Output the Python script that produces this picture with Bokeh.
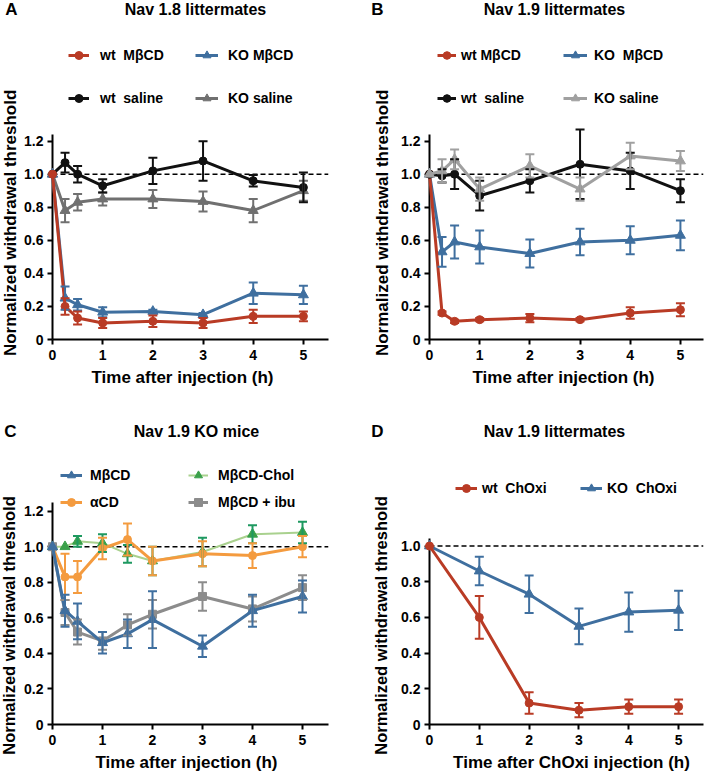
import math
from bokeh.plotting import figure
from bokeh.models import (ColumnDataSource, Whisker, TeeHead, Span, Legend,
                          LegendItem, FixedTicker, Range1d)
from bokeh.core.properties import value
from bokeh.layouts import column, row
from bokeh.embed import file_html
from bokeh.resources import INLINE

FONT = "Liberation Sans"

# ---------------- data ----------------
# Panel A: Nav 1.8 littermates
t_a = [0, 0.25, 0.5, 1, 2, 3, 4, 5]
a_wt_mbcd = [1.0, 0.20, 0.13, 0.10, 0.11, 0.10, 0.14, 0.14]
a_wt_mbcd_err = [0, 0.05, 0.04, 0.03, 0.035, 0.03, 0.04, 0.03]
a_ko_mbcd = [1.0, 0.25, 0.21, 0.165, 0.17, 0.15, 0.28, 0.27]
a_ko_mbcd_err = [0, 0.07, 0.035, 0.03, 0.01, 0.01, 0.065, 0.055]
a_wt_sal = [1.0, 1.07, 1.00, 0.93, 1.02, 1.08, 0.96, 0.92]
a_wt_sal_err = [0, 0.06, 0.05, 0.04, 0.08, 0.12, 0.035, 0.09]
a_ko_sal = [1.0, 0.78, 0.83, 0.85, 0.85, 0.835, 0.78, 0.90]
a_ko_sal_err = [0, 0.07, 0.05, 0.04, 0.055, 0.06, 0.07, 0.06]

# Panel B: Nav 1.9 littermates
t_b = [0, 0.25, 0.5, 1, 2, 3, 4, 5]
b_wt_mbcd = [1.0, 0.16, 0.11, 0.12, 0.13, 0.12, 0.16, 0.18]
b_wt_mbcd_err = [0, 0.01, 0.01, 0.01, 0.025, 0.01, 0.035, 0.04]
b_ko_mbcd = [1.0, 0.53, 0.59, 0.56, 0.52, 0.59, 0.60, 0.63]
b_ko_mbcd_err = [0, 0.09, 0.10, 0.10, 0.085, 0.08, 0.085, 0.09]
b_wt_sal = [1.0, 0.99, 1.0, 0.87, 0.96, 1.06, 1.02, 0.90]
b_wt_sal_err = [0, 0.04, 0.09, 0.09, 0.07, 0.21, 0.11, 0.07]
b_ko_sal = [1.0, 1.02, 1.09, 0.91, 1.05, 0.91, 1.11, 1.08]
b_ko_sal_err = [0, 0.07, 0.06, 0.07, 0.07, 0.07, 0.08, 0.06]

# Panel C: Nav 1.9 KO mice
t_c = [0, 0.25, 0.5, 1, 1.5, 2, 3, 4, 5]
c_mbcd = [1.0, 0.64, 0.58, 0.46, 0.51, 0.59, 0.44, 0.64, 0.72]
c_mbcd_err = [0, 0.09, 0.10, 0.06, 0.08, 0.16, 0.06, 0.09, 0.09]
c_acd = [1.0, 0.83, 0.83, 0.99, 1.04, 0.92, 0.96, 0.95, 1.00]
c_acd_err = [0, 0.13, 0.09, 0.06, 0.09, 0.08, 0.07, 0.07, 0.06]
c_chol = [1.0, 1.0, 1.03, 1.02, 0.96, 0.92, 0.97, 1.07, 1.08]
c_chol_err = [0, 0, 0.03, 0.05, 0.05, 0.08, 0.08, 0.05, 0.06]
c_ibu = [1.0, 0.63, 0.52, 0.47, 0.56, 0.62, 0.72, 0.65, 0.77]
c_ibu_err = [0, 0.07, 0.07, 0.05, 0.06, 0.08, 0.08, 0.07, 0.07]

# Panel D: Nav 1.9 littermates, ChOxi
t_d = [0, 1, 2, 3, 4, 5]
d_wt = [1.0, 0.60, 0.12, 0.08, 0.10, 0.10]
d_wt_err = [0, 0.12, 0.06, 0.04, 0.04, 0.04]
d_ko = [1.0, 0.86, 0.73, 0.55, 0.63, 0.64]
d_ko_err = [0, 0.08, 0.105, 0.10, 0.11, 0.11]

x_ticks = [0, 1, 2, 3, 4, 5]
y_ticks_12 = [0, 0.2, 0.4, 0.6, 0.8, 1.0, 1.2]
y_labels_12 = ["0", "0.2", "0.4", "0.6", "0.8", "1.0", "1.2"]
y_ticks_10 = [0, 0.2, 0.4, 0.6, 0.8, 1.0]
y_labels_10 = ["0", "0.2", "0.4", "0.6", "0.8", "1.0"]

RED = "#B93B25"
BLUE = "#3F6F9F"
BLACK = "#111111"
GRAY_A = "#707070"
GRAY_B = "#A0A0A0"
ORANGE = "#F49B3F"
GREEN = "#3AA04A"
GREEN_ERR = "#1E9960"
GREEN_LINE = "#A9D18E"
GRAY_C = "#8C8C8C"

# ---------------- geometry (pixels inside each figure) ----------------
# frame spans from the figure top down to the x axis; y axis line is bounded
GA = dict(ml=52, mr=26, mb=47, fw=276, fh=339, x1=5.5, ppu=165.3, ytop=1.24)
GB = dict(ml=75, mr=6, mb=47, fw=274, fh=339, x1=5.46, ppu=165.3, ytop=1.24)
GC = dict(ml=52, mr=26, mb=48, fw=276, fh=338, x1=5.52, ppu=177.8, ytop=1.25)
GD = dict(ml=75, mr=6, mb=48, fw=274, fh=338, x1=5.5, ppu=178.5, ytop=1.04)


def to_data(g, fx, fy):
    x = (fx - g["ml"]) / g["fw"] * g["x1"]
    y = (g["fh"] - fy) / g["ppu"]
    return x, y


def make_fig(g, y_ticks, y_labels):
    p = figure(frame_width=g["fw"], frame_height=g["fh"],
               min_border_left=g["ml"], min_border_right=g["mr"],
               min_border_top=0, min_border_bottom=g["mb"],
               x_range=Range1d(0, g["x1"]), y_range=Range1d(0, g["fh"] / g["ppu"]),
               output_backend="svg", toolbar_location=None, tools="")
    p.outline_line_color = None
    p.xgrid.visible = False
    p.ygrid.visible = False
    p.background_fill_color = "white"
    p.border_fill_color = "white"
    for ax in (p.xaxis[0], p.yaxis[0]):
        ax.axis_line_width = 2
        ax.axis_line_color = "black"
        ax.major_tick_line_width = 2
        ax.major_tick_line_color = "black"
        ax.major_tick_in = 0
        ax.major_tick_out = 5
        ax.minor_tick_line_color = None
        ax.major_label_text_font = FONT
        ax.major_label_text_font_style = "bold"
        ax.major_label_text_font_size = "14px"
        ax.major_label_text_color = "black"
    p.xaxis.ticker = FixedTicker(ticks=x_ticks)
    p.yaxis.ticker = FixedTicker(ticks=y_ticks)
    p.yaxis.bounds = (0, g["ytop"])
    p.yaxis.major_label_overrides = {t: l for t, l in zip(y_ticks, y_labels)}
    p.xaxis.major_label_standoff = 5
    p.yaxis.major_label_standoff = 4
    p.add_layout(Span(location=1.0, dimension="width", line_color="black",
                      line_width=1.5, line_dash="5 3"))
    return p


def series(p, x, y, err, color, marker, size, lw=3, line_color=None, err_color=None):
    lc = line_color or color
    ec = err_color or color
    l = p.line(x, y, line_color=lc, line_width=lw)
    s = p.scatter(x, y, marker=marker, size=size, fill_color=color, line_color=color)
    l.level = "overlay"
    s.level = "overlay"
    xs = [a for a, e in zip(x, err) if e > 0]
    up = [b + e for b, e in zip(y, err) if e > 0]
    lo = [b - e for b, e in zip(y, err) if e > 0]
    src = ColumnDataSource(dict(x=xs, upper=up, lower=lo))
    w = Whisker(source=src, base="x", upper="upper", lower="lower",
                line_color=ec, line_width=2,
                upper_head=TeeHead(size=9, line_color=ec, line_width=2),
                lower_head=TeeHead(size=9, line_color=ec, line_width=2),
                level="overlay")
    p.add_layout(w)
    return [l, s]


def put_text(p, g, fx, fy, text, size, angle=0.0):
    x, y = to_data(g, fx, fy)
    r = p.text(x=[x], y=[y], text=[text], text_font=value(FONT),
               text_font_style="bold", text_font_size=size,
               text_align="center", text_baseline="middle", angle=angle,
               text_color="black")
    r.level = "overlay"


def legend(p, items, loc, gw, standoff, spacing):
    leg = Legend(items=[LegendItem(label=lab, renderers=r) for lab, r in items],
                 location=loc, orientation="vertical", spacing=spacing,
                 glyph_width=gw, glyph_height=20, label_height=20,
                 label_standoff=standoff, padding=0, margin=0,
                 border_line_color=None, background_fill_alpha=0,
                 label_text_font=FONT, label_text_font_style="bold",
                 label_text_font_size="14px", label_text_color="black")
    p.add_layout(leg)


# ---------------- Panel A ----------------
pA = make_fig(GA, y_ticks_12, y_labels_12)
rA_ks = series(pA, t_a, a_ko_sal, a_ko_sal_err, GRAY_A, "triangle", 10)
rA_ws = series(pA, t_a, a_wt_sal, a_wt_sal_err, BLACK, "circle", 8)
rA_km = series(pA, t_a, a_ko_mbcd, a_ko_mbcd_err, BLUE, "triangle", 10)
rA_wm = series(pA, t_a, a_wt_mbcd, a_wt_mbcd_err, RED, "circle", 8)
legend(pA, [("wt  MβCD", rA_wm), ("wt  saline", rA_ws)], (16, 231), 21, 11, 23)
legend(pA, [("KO MβCD", rA_km), ("KO saline", rA_ks)], (143, 231), 23, 10, 23)
put_text(pA, GA, 11, 9, "A", "17px")
put_text(pA, GA, 195, 9, "Nav 1.8 littermates", "16px")
put_text(pA, GA, 10, 220, "Normalized withdrawal  threshold", "17px", math.pi / 2)
put_text(pA, GA, 182, 377, "Time after injection (h)", "17px")

# ---------------- Panel B ----------------
pB = make_fig(GB, y_ticks_12, y_labels_12)
rB_km = series(pB, t_b, b_ko_mbcd, b_ko_mbcd_err, BLUE, "triangle", 10)
rB_wm = series(pB, t_b, b_wt_mbcd, b_wt_mbcd_err, RED, "circle", 8)
rB_ws = series(pB, t_b, b_wt_sal, b_wt_sal_err, BLACK, "circle", 8)
rB_ks = series(pB, t_b, b_ko_sal, b_ko_sal_err, GRAY_B, "triangle", 10)
legend(pB, [("wt MβCD", rB_wm), ("wt  saline", rB_ws)], (8, 231), 19, 5, 23)
legend(pB, [("KO  MβCD", rB_km), ("KO saline", rB_ks)], (134, 231), 24, 7, 23)
put_text(pB, GB, 23, 9, "B", "17px")
put_text(pB, GB, 200, 9, "Nav 1.9 littermates", "16px")
put_text(pB, GB, 28, 220, "Normalized withdrawal  threshold", "17px", math.pi / 2)
put_text(pB, GB, 209, 377, "Time after injection (h)", "17px")

# ---------------- Panel C ----------------
pC = make_fig(GC, y_ticks_12, y_labels_12)
rC_ch = series(pC, t_c, c_chol, c_chol_err, GREEN, "triangle", 10, lw=2,
               line_color=GREEN_LINE, err_color=GREEN_ERR)
rC_ac = series(pC, t_c, c_acd, c_acd_err, ORANGE, "circle", 8)
rC_ib = series(pC, t_c, c_ibu, c_ibu_err, GRAY_C, "square", 8)
rC_mb = series(pC, t_c, c_mbcd, c_mbcd_err, BLUE, "triangle", 10)
legend(pC, [("MβCD", rC_mb), ("αCD", rC_ac)], (8, 212), 22, 8, 7)
legend(pC, [("MβCD-Chol", rC_ch), ("MβCD + ibu", rC_ib)], (136, 212), 20, 10, 7)
put_text(pC, GC, 10, 45, "C", "17px")
put_text(pC, GC, 196, 45, "Nav 1.9 KO mice", "16px")
put_text(pC, GC, 8, 239, "Normalized withdrawal threshold", "16.5px", math.pi / 2)
put_text(pC, GC, 186, 376, "Time after injection (h)", "17px")

# ---------------- Panel D ----------------
pD = make_fig(GD, y_ticks_10, y_labels_10)
rD_ko = series(pD, t_d, d_ko, d_ko_err, BLUE, "triangle", 10)
rD_wt = series(pD, t_d, d_wt, d_wt_err, RED, "circle", 8)
legend(pD, [("wt  ChOxi", rD_wt)], (26, 226), 22, 5, 7)
legend(pD, [("KO  ChOxi", rD_ko)], (151, 226), 22, 5, 7)
put_text(pD, GD, 23, 45, "D", "17px")
put_text(pD, GD, 200, 45, "Nav 1.9 littermates", "16px")
put_text(pD, GD, 26, 239, "Normalized withdrawal threshold", "16.5px", math.pi / 2)
put_text(pD, GD, 217, 376, "Time after ChOxi injection (h)", "17px")

layout = column(row(pA, pB), row(pC, pD))

with open("out.html", "w") as f:
    f.write(file_html(layout, INLINE))
